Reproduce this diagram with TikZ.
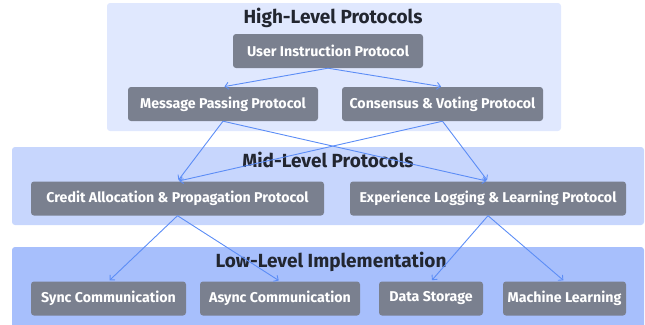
\documentclass[tikz,border=0pt]{standalone}
\usepackage{fontspec}
\setmainfont{Fira Sans}
\usetikzlibrary{arrows.meta}

\definecolor{highbg}{HTML}{E0E8FE}
\definecolor{midbg}{HTML}{C7D6FD}
\definecolor{lowbg}{HTML}{A7BFFC}
\definecolor{boxgray}{HTML}{7A808F}
\definecolor{titlegray}{HTML}{222630}
\definecolor{linkblue}{HTML}{5C8DF6}

\begin{document}
\begin{tikzpicture}[x=1pt, y=-1pt,
    panel/.style={rounded corners=3pt},
    proto/.style={fill=boxgray, rounded corners=3pt, text=white, inner sep=0pt,
      minimum height=34pt, font=\bfseries\fontsize{14.2}{16}\selectfont},
    layertitle/.style={text=titlegray, font=\bfseries\fontsize{19}{21}\selectfont},
    link/.style={draw=linkblue, line width=0.9pt,
      -{Straight Barb[length=3.5pt,width=7pt]}, shorten >=1.5pt}]
  \useasboundingbox (0,0) rectangle (645,324);

  % Фоновые панели уровней
  \fill[panel, highbg] (107,3) rectangle (561,131);
  \fill[panel, midbg] (12,147) rectangle (644,225);
  \fill[panel, lowbg] (12,247) rectangle (644,332);

  % Заголовки уровней
  \node[layertitle] (hightitle) at (333,18) {High-Level Protocols};
  \node[layertitle] (midtitle) at (328,160) {Mid-Level Protocols};
  \node[layertitle] (lowtitle) at (331,262) {Low-Level Implementation};

  % Верхний уровень
  \node[proto, minimum width=190pt] (user) at (328,51) {User Instruction Protocol};
  \node[proto, minimum width=190pt] (message) at (223,104) {Message Passing Protocol};
  \node[proto, minimum width=201pt] (consensus) at (442.5,104) {Consensus \& Voting Protocol};

  % Средний уровень
  \node[proto, minimum width=293pt] (credit) at (177.5,198.5) {Credit Allocation \& Propagation Protocol};
  \node[proto, minimum width=276pt] (experience) at (488,198.5) {Experience Logging \& Learning Protocol};

  % Нижний уровень
  \node[proto, minimum width=155pt] (sync) at (108.5,298.5) {Sync Communication};
  \node[proto, minimum width=160pt] (async) at (280,298.5) {Async Communication};
  \node[proto, minimum width=104pt] (storage) at (431,298.5) {Data Storage};
  \node[proto, minimum width=123pt] (learning) at (564.5,298.5) {Machine Learning};

  % Связи между протоколами
  \draw[link] (user.south) -- (message.north);
  \draw[link] (user.south) -- (consensus.north);
  \draw[link] (message.south) -- (credit.north);
  \draw[link] (message.south) -- (experience.north);
  \draw[link] (consensus.south) -- (credit.north);
  \draw[link] (consensus.south) -- (experience.north);
  \draw[link] (credit.south) -- (sync.north);
  \draw[link] (credit.south) -- (async.north);
  \draw[link] (experience.south) -- (storage.north);
  \draw[link] (experience.south) -- (learning.north);
\end{tikzpicture}
\end{document}
